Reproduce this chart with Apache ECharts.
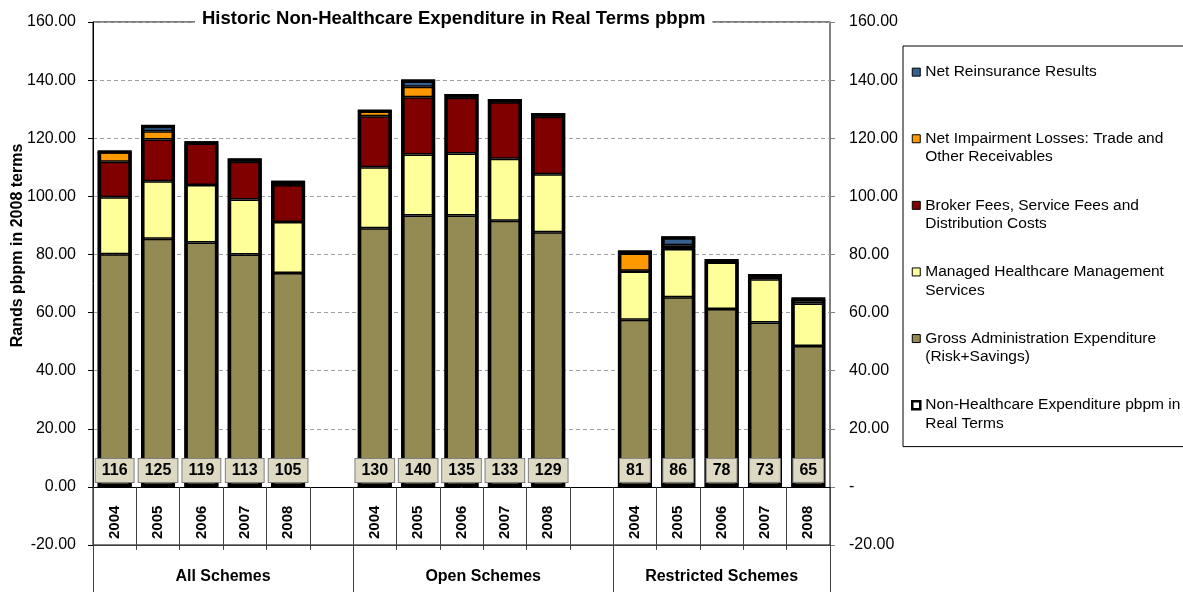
<!DOCTYPE html>
<html>
<head>
<meta charset="utf-8">
<script src="https://cdn.jsdelivr.net/npm/echarts@6/dist/echarts.min.js"></script>
<style>
    html, body { margin: 0; padding: 0; background: #fff; }
    #chart { width: 1183px; height: 592px; }
</style>
</head>
<body>
<div id="chart"></div>
<script>
// 5 years per scheme group, with an empty slot between groups
const categories = ['2004', '2005', '2006', '2007', '2008', '',
    '2004', '2005', '2006', '2007', '2008', '',
    '2004', '2005', '2006', '2007', '2008']
const groupNames = ['All Schemes', 'Open Schemes', 'Restricted Schemes']
const groupCenters = [3, 9, 14.5]
const groupEdges = [0, 6, 12, 17]
const yTicks = [-20, 0, 20, 40, 60, 80, 100, 120, 140, 160]

const gross = [80.1, 85.4, 84.1, 80.0, 73.6, null, 89.0, 93.4, 93.4, 91.6, 87.6, null, 57.5, 65.3, 61.2, 56.6, 48.5]
const managed = [19.6, 19.8, 19.8, 18.9, 17.6, null, 21.0, 21.0, 21.3, 21.3, 20.0, null, 16.6, 16.6, 16.6, 14.9, 14.6]
const broker = [12.2, 14.4, 14.3, 13.0, 12.7, null, 17.6, 19.7, 19.2, 19.5, 19.8, null, 0.3, 0.3, 0.3, 1.2, 0.6]
const impairment = [3.4, 2.8, 0.5, 0.8, 1.2, null, 1.8, 3.6, 1.1, 0.8, 1.0, null, 6.8, 1.0, 0.1, 0.3, 0.6]
const reinsurance = [0, 2.1, 0, 0, 0, null, 0, 2.5, 0, 0, 0, null, 0, 3.0, 0, 0, 0]
const totals = [115.9, 124.6, 119.0, 113.1, 105.4, null, 129.9, 140.2, 135.1, 133.4, 128.6, null, 81.0, 86.3, 77.9, 73.2, 65.3]

const names = {
    reins: 'Net Reinsurance Results',
    impair: 'Net Impairment Losses: Trade and Other Receivables',
    broker: 'Broker Fees, Service Fees and Distribution Costs',
    managed: 'Managed Healthcare Management Services',
    gross: 'Gross Administration Expenditure (Risk+Savings)',
    total: 'Non-Healthcare Expenditure pbpm in Real Terms'
}
// legend text wrapped as in the original
const legendText = {}
legendText[names.reins] = 'Net Reinsurance Results\n '
legendText[names.impair] = 'Net Impairment Losses: Trade and\nOther Receivables'
legendText[names.broker] = 'Broker Fees, Service Fees and\nDistribution Costs'
legendText[names.managed] = 'Managed Healthcare Management\nServices'
legendText[names.gross] = 'Gross Administration Expenditure\n(Risk+Savings)'
legendText[names.total] = 'Non-Healthcare Expenditure pbpm in\nReal Terms'

const font = "'Liberation Sans', Arial, sans-serif"
const BAR_W = 34
// square sitting at the top of a taller box, so it lines up with the first text line
const LEGEND_ICON = 'path://M0,0L8,0L8,8L0,8Z M0,26.3L0,26.3'

function stackSeries (name, data, color) {
    return {
        name: name,
        type: 'bar',
        stack: 'cost',
        data: data,
        barWidth: BAR_W,
        itemStyle: {
            color: color,
            borderColor: '#000',
            borderWidth: 1.5
        }
    }
}

function legendItem (name, width) {
    return { name: name, icon: LEGEND_ICON, itemStyle: { borderWidth: width } }
}

const chart = echarts.init(document.getElementById('chart'))
chart.setOption({
    animation: false,
    textStyle: { fontFamily: font },
    title: {
        text: 'Historic Non-Healthcare Expenditure in Real Terms pbpm',
        left: 195,
        top: 7,
        padding: [2, 7],
        backgroundColor: '#fff',
        textStyle: { fontSize: 18.5, fontWeight: 'bold', color: '#000', fontFamily: font }
    },
    legend: {
        orient: 'vertical',
        left: 903,
        top: 46,
        padding: [17, 12, 14, 8],
        itemGap: 30,
        itemWidth: 8,
        itemHeight: 26.3,
        borderColor: '#000',
        borderWidth: 1,
        data: [
            legendItem(names.reins, 1),
            legendItem(names.impair, 1),
            legendItem(names.broker, 1),
            legendItem(names.managed, 1),
            legendItem(names.gross, 1),
            legendItem(names.total, 2.5)
        ],
        formatter: name => legendText[name],
        textStyle: {
            fontSize: 15.5,
            lineHeight: 18.3,
            color: '#000',
            fontFamily: font
        }
    },
    grid: {
        left: 93,
        right: 353,
        top: 22,
        bottom: 47,
        outerBoundsMode: 'none',
        containLabel: false,
        show: true,
        borderColor: '#000',
        borderWidth: 1
    },
    xAxis: [{
        type: 'category',
        data: categories,
        axisLine: { onZero: true, lineStyle: { color: '#000', width: 1 } },
        axisTick: { show: true, interval: 0, length: 63, lineStyle: { color: '#404040' } },
        axisLabel: {
            interval: 0,
            rotate: 90,
            inside: true,
            margin: 6,
            fontSize: 15,
            fontWeight: 'bold',
            color: '#000'
        },
        splitLine: { show: false }
    }, {
        // second level: scheme groups below the -20 line
        type: 'value',
        position: 'bottom',
        min: 0,
        max: 17,
        axisLine: { show: true, onZero: false, lineStyle: { color: '#404040' } },
        axisTick: { show: true, customValues: groupEdges, length: 47, lineStyle: { color: '#404040' } },
        axisLabel: {
            customValues: groupCenters,
            margin: 24,
            fontSize: 16,
            fontWeight: 'bold',
            color: '#000',
            formatter: v => groupNames[groupCenters.indexOf(v)] || ''
        },
        splitLine: { show: false }
    }],
    yAxis: [{
        type: 'value',
        min: yTicks[0],
        max: yTicks[yTicks.length - 1],
        interval: 20,
        name: 'Rands pbpm in 2008 terms',
        nameLocation: 'middle',
        nameGap: 67,
        nameMoveOverlap: false,
        nameTextStyle: { fontSize: 16, fontWeight: 'bold', color: '#000', padding: [0, 0, 0, 76] },
        axisLine: { show: true, lineStyle: { color: '#000' } },
        axisTick: { show: true, length: 5, lineStyle: { color: '#000' } },
        axisLabel: { margin: 17, fontSize: 16, color: '#000', formatter: v => v.toFixed(2) },
        splitLine: { show: true, lineStyle: { color: '#a0a0a0', type: [4, 3] } }
    }, {
        type: 'value',
        position: 'right',
        min: yTicks[0],
        max: yTicks[yTicks.length - 1],
        interval: 20,
        axisLine: { show: true, lineStyle: { color: '#808080' } },
        axisTick: { show: true, length: 5, lineStyle: { color: '#808080' } },
        axisLabel: { margin: 19, fontSize: 16, color: '#000', formatter: v => v === 0 ? '-' : v.toFixed(2) },
        splitLine: { show: false }
    }],
    series: [
        stackSeries(names.gross, gross, '#948a54'),
        stackSeries(names.managed, managed, '#ffff99'),
        stackSeries(names.broker, broker, '#800000'),
        stackSeries(names.impair, impairment, '#ff9900'),
        stackSeries(names.reins, reinsurance, '#376092'),
        {
            name: names.total,
            type: 'bar',
            data: totals,
            barWidth: BAR_W,
            barGap: '-100%',
            z: 3,
            itemStyle: {
                color: 'rgba(255,255,255,0)',
                borderColor: '#000',
                borderWidth: 3.5
            },
            label: {
                show: true,
                position: 'insideBottom',
                distance: 5,
                formatter: p => Math.round(p.value),
                fontSize: 16,
                fontWeight: 'bold',
                color: '#000',
                backgroundColor: '#ddd9c3',
                borderColor: '#7f7f7f',
                borderWidth: 1,
                padding: [4, 6, 3, 6]
            }
        }
    ]
})
window.addEventListener('resize', () => chart.resize(), false)
</script>
</body>
</html>
